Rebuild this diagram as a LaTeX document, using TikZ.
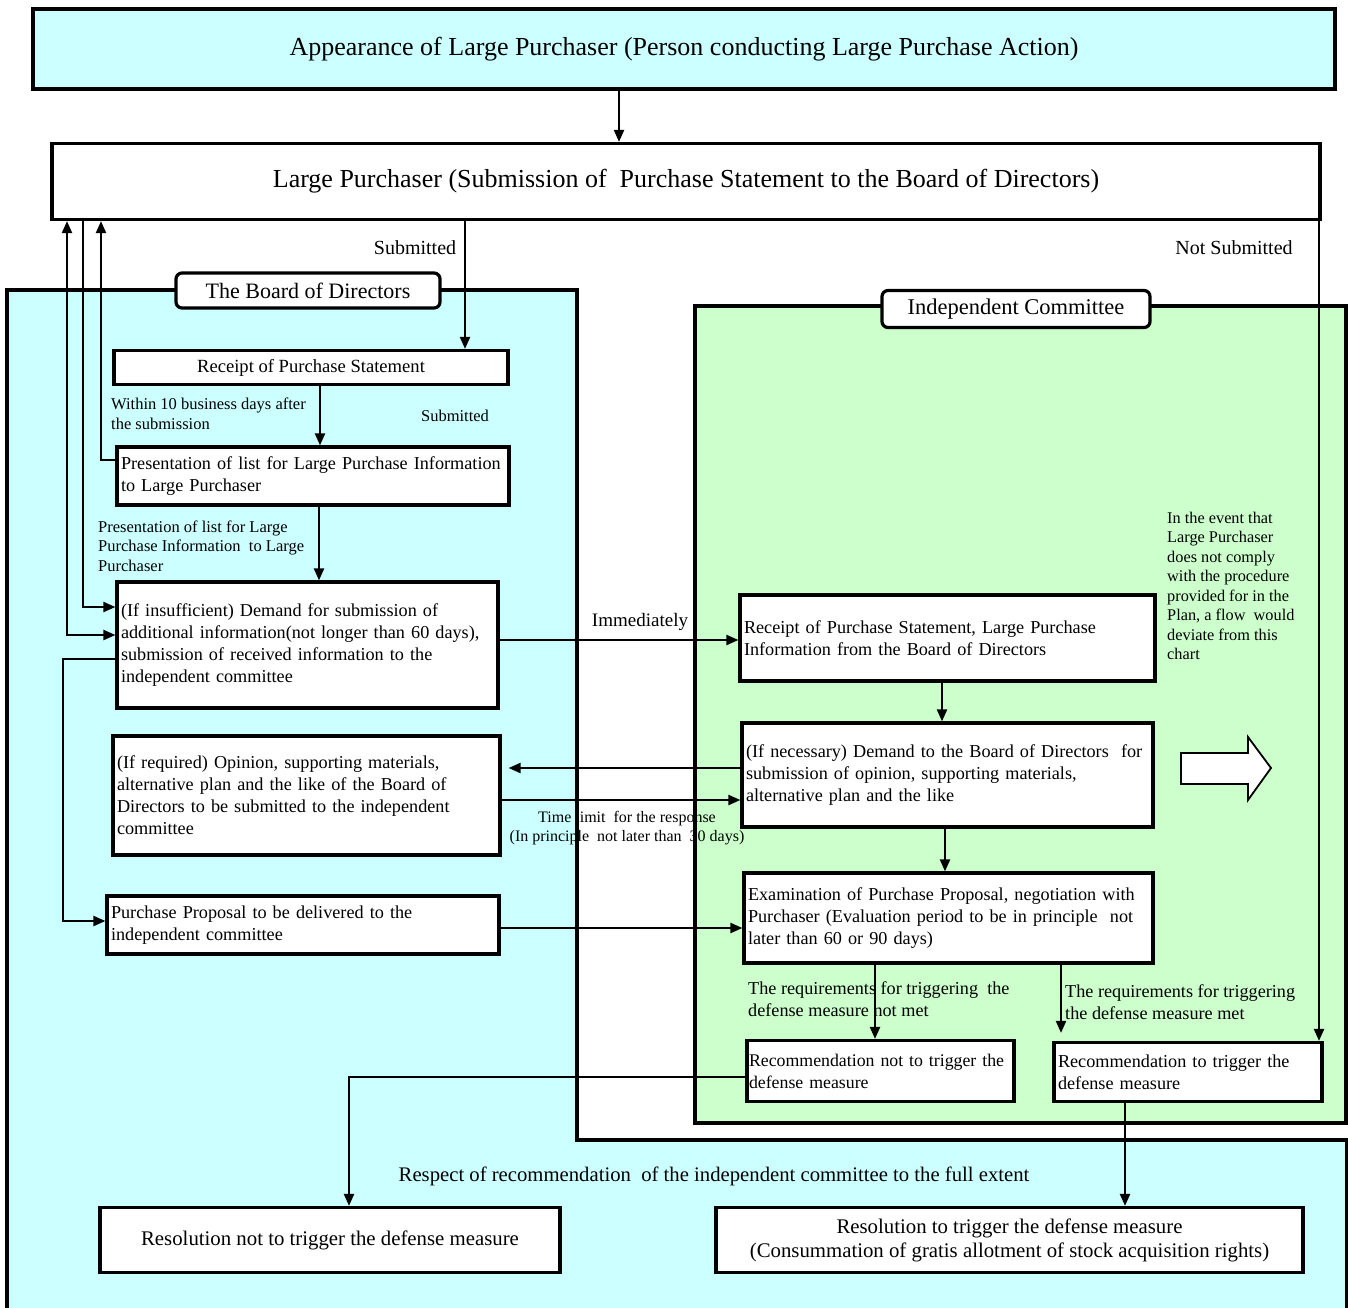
\documentclass[tikz,border=0pt]{standalone}
\usepackage{fontspec}
\setmainfont{Liberation Serif}
\usetikzlibrary{arrows.meta}
\definecolor{cyanbg}{HTML}{CCFFFF}
\definecolor{greenbg}{HTML}{CCFFCC}
\begin{document}
\begin{tikzpicture}[x=1pt,y=-1pt,
  box/.style={draw, line width=3.2pt, fill=white, inner xsep=4pt, inner ysep=0pt, align=left, font=\fontsize{18.2}{22}\selectfont},
  cbox/.style={box, align=center},
  tag/.style={draw, line width=3.2pt, fill=white, rounded corners=6pt, inner sep=0pt, font=\fontsize{22.5}{26}\selectfont},
  lbl/.style={inner sep=0pt, align=left, font=\fontsize{16.5}{19.5}\selectfont},
  arr/.style={line width=2.2pt, -{Triangle[length=12pt,width=10pt]}},
  arrb/.style={line width=2.2pt, {Triangle[length=12pt,width=10pt]}-{Triangle[length=12pt,width=10pt]}},
  ln/.style={line width=2.2pt}]
\useasboundingbox (0,0) rectangle (1348,1307);
% regions
\draw[line width=3.2pt, fill=cyanbg] (7,290) -- (577,290) -- (577,1140) -- (1347,1140) -- (1347,1312) -- (7,1312) -- cycle;
\draw[line width=3.2pt, fill=greenbg] (695,306) rectangle (1346,1123);
% top boxes
\node[cbox, fill=cyanbg, minimum width=1302pt, minimum height=80pt, font=\fontsize{26}{30}\selectfont] (appear) at (684,49) {Appearance of Large Purchaser (Person conducting Large Purchase Action)};
\node[cbox, minimum width=1268pt, minimum height=76pt, font=\fontsize{26}{30}\selectfont] (lp) at (686,181.5) {Large Purchaser (Submission of\ \ Purchase Statement to the Board of Directors)};
% tags
\node[tag, minimum width=264pt, minimum height=35pt, font=\fontsize{22}{26}\selectfont] (bod) at (308,290.5) {The Board of Directors};
\node[tag, minimum width=268pt, minimum height=37pt] (ic) at (1016,309) {Independent Committee};
% board boxes
\node[cbox, minimum width=394pt, minimum height=34pt, font=\fontsize{18.6}{22}\selectfont] (rps) at (311,367.5) {Receipt of Purchase Statement};
\node[box, minimum width=392pt, minimum height=58pt, text width=384pt] (pres) at (313,476) {Presentation of list for Large Purchase Information\\to Large Purchaser};
\node[box, minimum width=381pt, minimum height=126pt, text width=373pt] (dem) at (307.5,645) {(If insufficient) Demand for submission of\\additional information(not longer than 60 days),\\submission of received information to the\\independent committee};
\node[box, minimum width=387pt, minimum height=119pt, text width=379pt] (opin) at (306.5,795.5) {(If required) Opinion, supporting materials,\\alternative plan and the like of the Board of\\Directors to be submitted to the independent\\committee};
\node[box, minimum width=392pt, minimum height=58pt, text width=384pt] (pp) at (303,925) {Purchase Proposal to be delivered to the\\independent committee};
% committee boxes
\node[box, minimum width=415pt, minimum height=86pt, text width=407pt] (ric) at (947.5,638) {Receipt of Purchase Statement, Large Purchase\\Information from the Board of Directors};
\node[box, minimum width=411pt, minimum height=104pt, text width=403pt] (dic) at (947.5,775) {(If necessary) Demand to the Board of Directors\ \ for\\submission of opinion, supporting materials,\\alternative plan and the like};
\node[box, minimum width=409pt, minimum height=90pt, text width=401pt] (exam) at (948.5,918) {Examination of Purchase Proposal, negotiation with\\Purchaser (Evaluation period to be in principle\ \ not\\later than 60 or 90 days)};
\node[box, inner xsep=2pt, minimum width=267pt, minimum height=61pt, text width=263pt, font=\fontsize{17.8}{22}\selectfont] (rnot) at (880.5,1071) {Recommendation not to trigger the\\defense measure};
\node[box, minimum width=268pt, minimum height=59pt, text width=260pt] (rtrig) at (1188,1072) {Recommendation to trigger the\\defense measure};
% resolutions
\node[cbox, minimum width=460pt, minimum height=65pt, font=\fontsize{20.8}{24}\selectfont] (resnot) at (330,1240) {Resolution not to trigger the defense measure};
\node[cbox, minimum width=587pt, minimum height=65pt, font=\fontsize{20.8}{24}\selectfont] (restrig) at (1009.5,1240) {Resolution to trigger the defense measure\\(Consummation of gratis allotment of stock acquisition rights)};
% labels
\node[lbl, font=\fontsize{20}{24}\selectfont] (lsub) at (415,248) {Submitted};
\node[lbl, font=\fontsize{20}{24}\selectfont] (lnsub) at (1234,248) {Not Submitted};
\node[lbl, anchor=west] (lwithin) at (111,414) {Within 10 business days after\\the submission};
\node[lbl] (lsub2) at (455,416) {Submitted};
\node[lbl, anchor=west] (lpres) at (98,546) {Presentation of list for Large\\Purchase Information\ \ to Large\\Purchaser};
\node[lbl, font=\fontsize{19}{22}\selectfont] (limm) at (640,622) {Immediately};
\node[lbl, align=center, font=\fontsize{16}{19.5}\selectfont] (ltime) at (627,828) {Time limit\ \ for the response\\(In principle\ \ not later than\ \ 30 days)};
\node[lbl, anchor=west, font=\fontsize{18.2}{22}\selectfont] (lnotmet) at (748,999) {The requirements for triggering\ \ the\\defense measure not met};
\node[lbl, anchor=west, font=\fontsize{18.2}{22}\selectfont] (lmet) at (1065,1002) {The requirements for triggering\\the defense measure met};
\node[lbl, anchor=west, font=\fontsize{16.3}{19.5}\selectfont] (levent) at (1167,586) {In the event that\\Large Purchaser\\does not comply\\with the procedure\\provided for in the\\Plan, a flow\ \ would\\deviate from this\\chart};
\node[lbl, font=\fontsize{20.7}{24}\selectfont] (lrespect) at (714,1176) {Respect of recommendation\ \ of the independent committee to the full extent};
% block arrow
\draw[line width=1.8pt, fill=white] (1181,753) -- (1248,753) -- (1248,737) -- (1271,768) -- (1248,800) -- (1248,784) -- (1181,784) -- cycle;
% connectors
\draw[arr] (619,0 |- appear.south) -- (619,0 |- lp.north);
\draw[arr] (465,0 |- lp.south) -- (465,0 |- rps.north);
\draw[arr] (320,0 |- rps.south) -- (320,0 |- pres.north);
\draw[arr] (319,0 |- pres.south) -- (319,0 |- dem.north);
\draw[arr] (pres.west |- 0,460) -- (101,460) -- (101,0 |- lp.south);
\draw[arr] (83,0 |- lp.south) |- (dem.west |- 0,607);
\draw[arrb] (dem.west |- 0,635) -| (67,0 |- lp.south);
\draw[arr] (dem.west |- 0,659) -- (63,659) -- (63,921) -- (pp.west |- 0,921);
\draw[arr] (dem.east |- 0,640) -- (ric.west |- 0,640);
\draw[arr, shorten >=7pt] (dic.west |- 0,768) -- (opin.east |- 0,768);
\draw[arr] (opin.east |- 0,800) -- (dic.west |- 0,800);
\draw[arr] (pp.east |- 0,928) -- (exam.west |- 0,928);
\draw[arr] (942,0 |- ric.south) -- (942,0 |- dic.north);
\draw[arr] (945,0 |- dic.south) -- (945,0 |- exam.north);
\draw[arr] (875,0 |- exam.south) -- (875,0 |- rnot.north);
\draw[arr, shorten >=8pt] (1061,0 |- exam.south) -- (1061,0 |- rtrig.north);
\draw[arr] (1319,0 |- lp.south) -- (1319,0 |- rtrig.north);
\draw[arr] (rnot.west |- 0,1077) -| (349,0 |- resnot.north);
\draw[arr] (1125,0 |- rtrig.south) -- (1125,0 |- restrig.north);
\end{tikzpicture}
\end{document}
